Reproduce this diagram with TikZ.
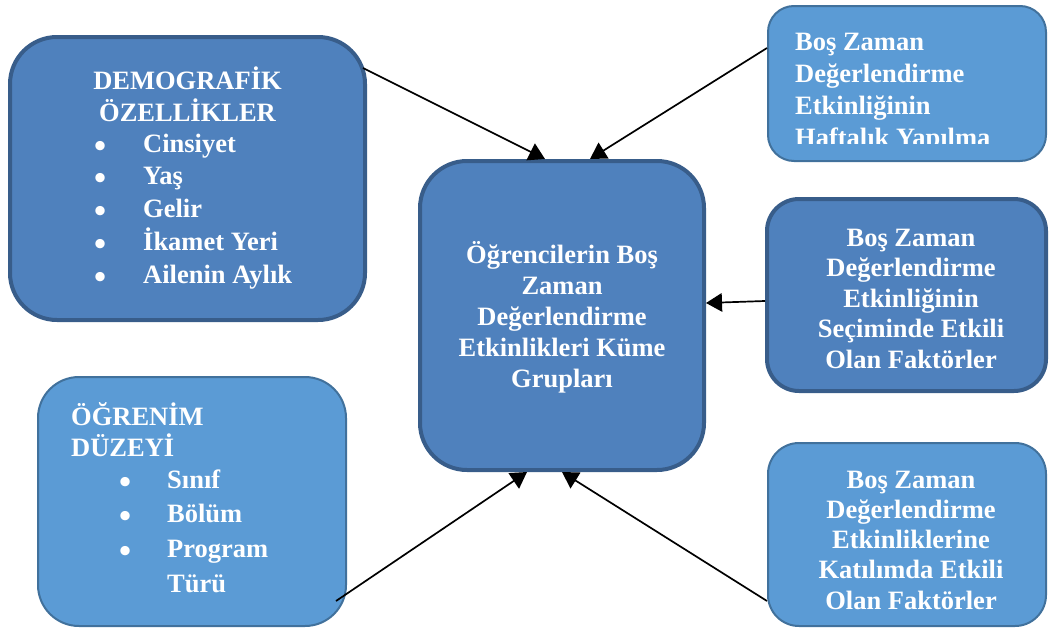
\documentclass[tikz,border=0pt]{standalone}
\usepackage{fontspec}
\setmainfont{Liberation Serif}
\usetikzlibrary{arrows.meta}
\definecolor{darkfill}{HTML}{4F81BD}
\definecolor{darkline}{HTML}{385D8A}
\definecolor{lightfill}{HTML}{5B9BD5}
\definecolor{lightline}{HTML}{41719C}
\newcommand\linesC[1]{\vtop{\halign{\hfil##\hfil\cr#1\crcr}}}
\newcommand\linesL[1]{\vtop{\halign{##\hfil\cr#1\crcr}}}
\newcommand\bul[1]{\makebox[0pt]{\raisebox{-5pt}{\scalebox{1.3}{•}}}\hspace{#1}}
\begin{document}
\begin{tikzpicture}[x=1pt,y=-1pt,
  darkbox/.style={draw=darkline, fill=darkfill, line width=4pt, inner sep=0pt},
  lightbox/.style={draw=lightline, fill=lightfill, line width=2pt, inner sep=0pt},
  txt/.style={text=white, inner sep=0pt, anchor=base, font=\bfseries\fontsize{26.5pt}{#1pt}\selectfont},
  arr/.style={line width=1.7pt, -{Triangle[length=16pt,width=18.5pt]}}]
\useasboundingbox (0,0) rectangle (1049,629);

% boxes
\node[darkbox, rounded corners=47pt, minimum width=355pt, minimum height=283pt] (demo) at (187.5,178.5) {};
\node[lightbox, rounded corners=26pt, minimum width=278pt, minimum height=155pt] (tr) at (907,83.5) {};
\node[darkbox, rounded corners=32pt, minimum width=279pt, minimum height=192pt] (mr) at (906.5,295) {};
\node[lightbox, rounded corners=31pt, minimum width=278pt, minimum height=183pt] (br) at (907,534.5) {};
\node[lightbox, rounded corners=41pt, minimum width=308pt, minimum height=249pt] (bl) at (192,501.5) {};
\node[darkbox, rounded corners=47pt, minimum width=284pt, minimum height=309pt] (center) at (562,315.5) {};

% texts
\node[txt=32.4] (demoT) at (187.5,89) {\linesC{DEMOGRAFİK\cr ÖZELLİKLER}};
\node[txt=32.75, anchor=base west] (demoL) at (100,152) {\linesL{\bul{43pt}Cinsiyet\cr \bul{43pt}Yaş\cr \bul{43pt}Gelir\cr \bul{43pt}İkamet Yeri\cr \bul{43pt}Ailenin Aylık}};
\begin{scope}
  \clip (768,0) rectangle (1049,143.5);
  \node[txt=32, anchor=base west] (trT) at (795,50) {\linesL{Boş Zaman\cr Değerlendirme\cr Etkinliğinin\cr Haftalık Yapılma}};
\end{scope}
\node[txt=30.6] (mrT) at (911,246) {\linesC{Boş Zaman\cr Değerlendirme\cr Etkinliğinin\cr Seçiminde Etkili\cr Olan Faktörler}};
\node[txt=30.3] (brT) at (911,488) {\linesC{Boş Zaman\cr Değerlendirme\cr Etkinliklerine\cr Katılımda Etkili\cr Olan Faktörler}};
\node[txt=31.5, anchor=base west] (blH) at (71,425) {\linesL{ÖĞRENİM\cr DÜZEYİ}};
\node[txt=34.7, anchor=base west] (blL) at (125,488) {\linesL{\bul{42pt}Sınıf\cr \bul{42pt}Bölüm\cr \bul{42pt}Program\cr \hspace{42pt}Türü}};
\node[txt=31] (centerT) at (562,263.5) {\linesC{Öğrencilerin Boş\cr Zaman\cr Değerlendirme\cr Etkinlikleri Küme\cr Grupları}};

% connectors
\draw[arr] ([xshift=-4pt,yshift=-33pt]demo.north east) -- ([xshift=-17pt]center.north);
\draw[arr] ([yshift=35.5pt]tr.west) -- ([xshift=28pt]center.north);
\draw[arr] ([yshift=-6pt]mr.west) -- ([yshift=12.5pt]center.east);
\draw[arr] ([yshift=-66.5pt]br.west) -- (center.south);
\draw[arr] ([xshift=-11pt,yshift=-99.5pt]bl.east) -- ([xshift=-35pt]center.south);
\end{tikzpicture}
\end{document}
